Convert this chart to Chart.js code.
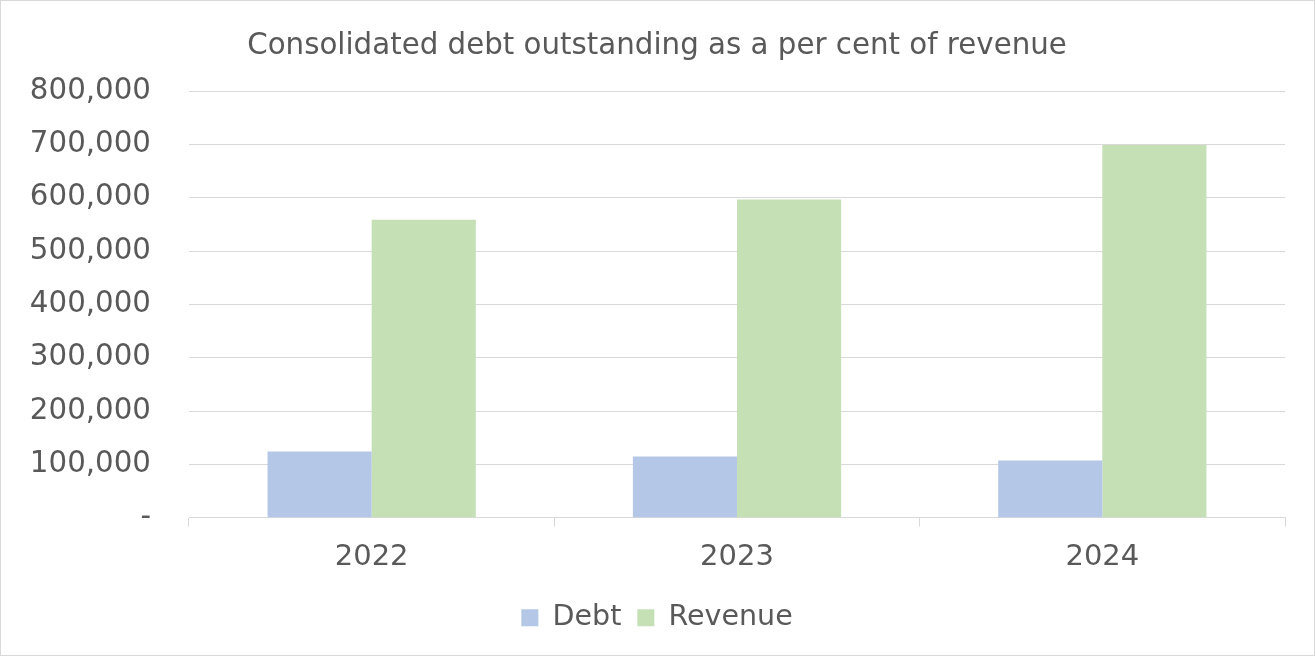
<!DOCTYPE html>
<html lang="en">
  <head>
    <meta charset="UTF-8" />
    <title>Consolidated debt outstanding</title>
    <script src="https://cdn.jsdelivr.net/npm/chart.js@4/dist/chart.umd.min.js"></script>
    <style>
      body {
        margin: 0;
        background: #fff;
      }
      #wrap {
        width: 1315px;
        height: 656px;
        box-sizing: border-box;
        border: 1px solid #d9d9d9;
        position: relative;
      }
    </style>
  </head>
  <body>
    <div id="wrap"><canvas id="debtChart"></canvas></div>
    <script>
      const years = ["2022", "2023", "2024"];
      const debt = [124000, 115000, 107500];
      const revenue = [559000, 597000, 699000];
      const yTicks = [0, 100000, 200000, 300000, 400000, 500000, 600000, 700000, 800000];

      const textColor = "#595959";
      const lineColor = "#d9d9d9";
      const fontFamily = "'DejaVu Sans', Verdana, sans-serif";

      const data = {
        labels: years,
        datasets: [
          {
            label: "Debt",
            data: debt,
            backgroundColor: "#b4c7e7",
            categoryPercentage: 0.57,
            barPercentage: 1,
          },
          {
            label: "Revenue",
            data: revenue,
            backgroundColor: "#c5e0b4",
            categoryPercentage: 0.57,
            barPercentage: 1,
          },
        ],
      };

      const config = {
        type: "bar",
        data: data,
        options: {
          responsive: true,
          maintainAspectRatio: false,
          animation: false,
          layout: {
            padding: { left: 28, right: 29, top: 12, bottom: 13 },
          },
          plugins: {
            title: {
              display: true,
              text: "Consolidated debt outstanding as a per cent of revenue",
              color: textColor,
              font: { family: fontFamily, size: 29.3, weight: "normal" },
              padding: { top: 16, bottom: 27 },
            },
            legend: {
              position: "bottom",
              labels: {
                color: textColor,
                font: { family: fontFamily, size: 28.5 },
                boxWidth: 17,
                boxHeight: 17,
                padding: 16,
              },
            },
            tooltip: { enabled: false },
          },
          scales: {
            x: {
              grid: {
                drawOnChartArea: false,
                drawTicks: true,
                tickLength: 9,
                color: lineColor,
              },
              border: { color: lineColor },
              ticks: {
                color: textColor,
                font: { family: fontFamily, size: 29 },
                padding: 13,
              },
            },
            y: {
              min: 0,
              max: 800000,
              afterBuildTicks: function (axis) {
                axis.ticks = yTicks.map(function (v) {
                  return { value: v };
                });
              },
              afterFit: function (axis) {
                axis.width = 160;
              },
              grid: { color: lineColor, drawTicks: false },
              border: { display: false },
              ticks: {
                color: textColor,
                font: { family: fontFamily, size: 29.3 },
                padding: 38,
                callback: function (value) {
                  return value === 0 ? "-" : value.toLocaleString("en-US");
                },
              },
            },
          },
        },
      };

      new Chart(document.getElementById("debtChart"), config);
    </script>
  </body>
</html>
